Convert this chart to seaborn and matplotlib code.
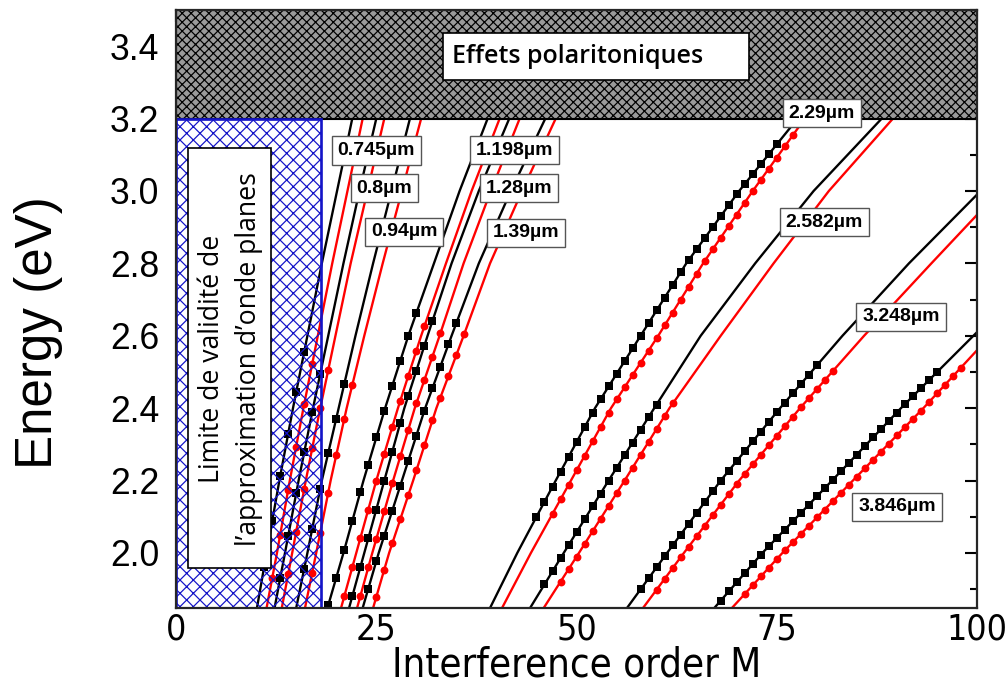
import numpy as np
import matplotlib
matplotlib.use('Agg')
import matplotlib.pyplot as plt
import seaborn as sns
from matplotlib.patches import Rectangle
from matplotlib.ticker import MultipleLocator

# ── Data ────────────────────────────────────────────────────────────────────
# model curves: interference order M read at these energies (eV)
E_GRID = [1.848, 2.0, 2.2, 2.4, 2.6, 2.8, 3.0, 3.2]

M_0745_K = [10.1, 11.3, 12.9, 14.6, 16.4, 18.2, 20.1, 22.0]
M_0745_R = [11.3, 12.6, 14.2, 15.9, 17.7, 19.5, 21.4, 23.3]
M_080_K = [12.3, 13.6, 15.3, 17.1, 19.0, 20.9, 22.9, 25.0]
M_080_R = [13.2, 14.5, 16.2, 18.0, 19.9, 21.8, 23.9, 26.0]
M_094_K = [15.0, 16.4, 18.2, 20.3, 22.4, 24.6, 26.9, 29.2]
M_094_R = [16.1, 17.5, 19.3, 21.3, 23.5, 25.8, 28.2, 30.6]
M_1198_K = [18.9, 20.9, 23.4, 26.1, 29.0, 32.2, 35.4, 38.9]
M_1198_R = [20.6, 22.5, 25.0, 27.7, 30.6, 33.7, 36.9, 40.4]
M_128_K = [21.6, 23.5, 26.0, 28.5, 31.4, 34.4, 37.8, 41.6]
M_128_R = [22.6, 24.5, 27.1, 29.8, 32.9, 35.9, 39.3, 42.9]
M_139_K = [23.3, 25.3, 28.2, 31.1, 34.4, 37.8, 41.8, 46.1]
M_139_R = [24.6, 26.6, 29.6, 32.5, 35.9, 39.2, 43.2, 47.4]
M_229_K = [39.2, 42.6, 47.4, 52.3, 58.0, 63.7, 70.3, 77.6]
M_229_R = [40.7, 44.3, 49.3, 54.3, 60.2, 65.8, 72.0, 78.5]
M_2582_K = [44.2, 48.4, 54.0, 59.7, 65.5, 72.3, 79.6, 88.1]
M_2582_R = [45.9, 50.3, 56.0, 61.6, 68.0, 74.6, 81.5, 89.5]

E_3248_K = [1.848, 2.0, 2.2, 2.4, 2.6, 2.8, 2.99]
M_3248_K = [56.3, 61.3, 68.0, 75.4, 83.2, 91.5, 100.0]
E_3248_R = [1.848, 2.0, 2.2, 2.4, 2.6, 2.8, 2.934]
M_3248_R = [58.3, 63.4, 70.3, 77.9, 85.9, 94.3, 100.0]
E_3846_K = [1.848, 2.0, 2.2, 2.4, 2.61]
M_3846_K = [67.2, 73.2, 81.9, 90.5, 100.0]
E_3846_R = [1.848, 2.0, 2.2, 2.4, 2.56]
M_3846_R = [69.4, 75.7, 84.5, 93.3, 100.0]

# measured points: energy of consecutive orders, starting at the given order
START_0745_K, PTS_0745_K = 11, [1.962, 2.087, 2.212, 2.329, 2.444, 2.556]
START_0745_R, PTS_0745_R = 12, [1.930, 2.050, 2.175, 2.294, 2.411, 2.522]
START_080_K, PTS_080_K = 13, [1.930, 2.047, 2.165, 2.278, 2.389, 2.495]
START_080_R, PTS_080_R = 14, [1.942, 2.059, 2.176, 2.289, 2.400, 2.505]
START_094_K, PTS_094_K = 16, [1.957, 2.067, 2.178, 2.276, 2.371, 2.467]
START_094_R, PTS_094_R = 17, [1.946, 2.056, 2.167, 2.270, 2.370, 2.464]
START_1198_K, PTS_1198_K = 19, [1.856, 1.932, 2.008, 2.088, 2.168, 2.244, 2.319, 2.393,
                                2.462, 2.531, 2.600, 2.663]
START_1198_R, PTS_1198_R = 21, [1.880, 1.960, 2.040, 2.120, 2.200, 2.274, 2.348, 2.421,
                                2.490, 2.559, 2.626]
START_128_K, PTS_128_K = 22, [1.880, 1.960, 2.040, 2.120, 2.200, 2.280, 2.360, 2.434,
                              2.503, 2.572, 2.640]
START_128_R, PTS_128_R = 23, [1.880, 1.960, 2.038, 2.115, 2.192, 2.267, 2.341, 2.413,
                              2.477, 2.542, 2.607]
START_139_K, PTS_139_K = 24, [1.901, 1.977, 2.048, 2.117, 2.186, 2.255, 2.324, 2.393,
                              2.455, 2.515, 2.576, 2.635]
START_139_R, PTS_139_R = 25, [1.878, 1.954, 2.027, 2.093, 2.160, 2.228, 2.297, 2.366,
                              2.429, 2.488, 2.547, 2.606]
START_229_K, PTS_229_K = 45, [2.100, 2.142, 2.183, 2.224, 2.265, 2.306, 2.347, 2.388,
                              2.425, 2.460, 2.495, 2.530, 2.565, 2.600, 2.635, 2.670,
                              2.705, 2.740, 2.775, 2.809, 2.839, 2.870, 2.900, 2.930,
                              2.961, 2.991, 3.019, 3.047, 3.074, 3.101, 3.129]
START_229_R, PTS_229_R = 47, [2.108, 2.148, 2.188, 2.228, 2.268, 2.308, 2.348, 2.388,
                              2.424, 2.458, 2.492, 2.525, 2.559, 2.593, 2.629, 2.664,
                              2.700, 2.736, 2.771, 2.806, 2.839, 2.871, 2.903, 2.935,
                              2.968, 3.000, 3.031, 3.062, 3.092, 3.123, 3.154]
START_2582_K, PTS_2582_K = 46, [1.913, 1.949, 1.986, 2.021, 2.057, 2.093, 2.129, 2.164,
                                2.200, 2.235, 2.270, 2.305, 2.340, 2.375, 2.410]
START_2582_R, PTS_2582_R = 48, [1.921, 1.955, 1.990, 2.025, 2.060, 2.095, 2.130, 2.165,
                                2.200, 2.236, 2.271, 2.307, 2.343, 2.379, 2.413]
START_3248_K, PTS_3248_K = 58, [1.900, 1.930, 1.960, 1.991, 2.021, 2.051, 2.081, 2.110,
                                2.140, 2.170, 2.200, 2.227, 2.254, 2.281, 2.308, 2.335,
                                2.362, 2.389, 2.415, 2.441, 2.467, 2.492, 2.518]
START_3248_R, PTS_3248_R = 60, [1.899, 1.928, 1.958, 1.988, 2.017, 2.046, 2.075, 2.104,
                                2.133, 2.162, 2.191, 2.218, 2.245, 2.271, 2.297, 2.324,
                                2.350, 2.376, 2.402, 2.427, 2.452, 2.478, 2.502]
START_3846_K, PTS_3846_K = 68, [1.868, 1.894, 1.919, 1.944, 1.970, 1.995, 2.018, 2.041,
                                2.064, 2.087, 2.110, 2.133, 2.156, 2.179, 2.202, 2.226,
                                2.249, 2.272, 2.295, 2.319, 2.342, 2.365, 2.388, 2.411,
                                2.433, 2.455, 2.477, 2.499]
START_3846_R, PTS_3846_R = 71, [1.887, 1.911, 1.935, 1.959, 1.983, 2.007, 2.030, 2.052,
                                2.075, 2.098, 2.120, 2.143, 2.166, 2.189, 2.211, 2.234,
                                2.257, 2.280, 2.302, 2.325, 2.348, 2.370, 2.393, 2.417,
                                2.441, 2.464, 2.488, 2.512]

THICKNESS_LABELS = ['0.745µm', '0.8µm', '0.94µm', '1.198µm', '1.28µm',
                    '1.39µm', '2.29µm', '2.582µm', '3.248µm', '3.846µm']
LABEL_M = [25.0, 26.0, 28.5, 42.3, 42.8, 43.7, 80.6, 80.9, 90.5, 90.0]
LABEL_E = [3.111, 3.008, 2.887, 3.113, 3.008, 2.884, 3.215, 2.914, 2.652, 2.127]

curves = [
    (E_GRID, M_0745_K, START_0745_K, PTS_0745_K, 'k'), (E_GRID, M_0745_R, START_0745_R, PTS_0745_R, 'r'),
    (E_GRID, M_080_K, START_080_K, PTS_080_K, 'k'), (E_GRID, M_080_R, START_080_R, PTS_080_R, 'r'),
    (E_GRID, M_094_K, START_094_K, PTS_094_K, 'k'), (E_GRID, M_094_R, START_094_R, PTS_094_R, 'r'),
    (E_GRID, M_1198_K, START_1198_K, PTS_1198_K, 'k'), (E_GRID, M_1198_R, START_1198_R, PTS_1198_R, 'r'),
    (E_GRID, M_128_K, START_128_K, PTS_128_K, 'k'), (E_GRID, M_128_R, START_128_R, PTS_128_R, 'r'),
    (E_GRID, M_139_K, START_139_K, PTS_139_K, 'k'), (E_GRID, M_139_R, START_139_R, PTS_139_R, 'r'),
    (E_GRID, M_229_K, START_229_K, PTS_229_K, 'k'), (E_GRID, M_229_R, START_229_R, PTS_229_R, 'r'),
    (E_GRID, M_2582_K, START_2582_K, PTS_2582_K, 'k'), (E_GRID, M_2582_R, START_2582_R, PTS_2582_R, 'r'),
    (E_3248_K, M_3248_K, START_3248_K, PTS_3248_K, 'k'), (E_3248_R, M_3248_R, START_3248_R, PTS_3248_R, 'r'),
    (E_3846_K, M_3846_K, START_3846_K, PTS_3846_K, 'k'), (E_3846_R, M_3846_R, START_3846_R, PTS_3846_R, 'r'),
]

# ── Figure ─────────────────────────────────────────────────────────────────
sns.set_style('white')
plt.rcParams['font.family'] = ['Liberation Sans', 'DejaVu Sans']
plt.rcParams['hatch.linewidth'] = 1.1
for key in ['text.color', 'axes.labelcolor', 'xtick.color', 'ytick.color']:
    plt.rcParams[key] = 'black'

fig = plt.figure(figsize=(12.575, 8.6), dpi=80)
ax = fig.add_axes([0.175, 0.1163, 0.7962, 0.8692])

for e, m, start, pts, c in curves:
    col = 'black' if c == 'k' else '#ff0000'
    sns.lineplot(x=m, y=e, sort=False, estimator=None, color=col, lw=2.1, ax=ax, zorder=2)
    orders = np.arange(start, start + len(pts))
    sns.scatterplot(x=orders, y=pts, marker='s' if c == 'k' else 'o', color=col,
                    s=50, linewidth=0, ax=ax, zorder=2.5)

# polariton region and plane-wave validity limit
ax.add_patch(Rectangle((0, 3.2), 100, 0.3, facecolor='#9a9a9a', edgecolor='black',
                       hatch='xxx', lw=1.9, zorder=3))
ax.add_patch(Rectangle((0, 1.848), 18.1, 3.2 - 1.848, facecolor='none', edgecolor='#1414c8',
                       hatch='xx', lw=2.4, zorder=4))

ax.add_patch(Rectangle((33.3, 3.307), 38.2, 0.129, facecolor='white', edgecolor='black',
                       lw=1.5, zorder=5))
ax.text(34.5, 3.372, 'Effets polaritoniques', ha='left', va='center', fontsize=22.5,
        family=['Open Sans', 'DejaVu Sans'], fontweight='semibold', zorder=6)

ax.add_patch(Rectangle((1.5, 1.959), 10.4, 1.16, facecolor='white', edgecolor='black',
                       lw=1.5, zorder=5))
ax.text(6.8, 2.536, 'Limite de validité de\nl\u2019approximation d\u2019onde planes',
        rotation=90, ha='center', va='center', fontsize=24, linespacing=1.45,
        family=['Open Sans', 'DejaVu Sans'], zorder=6)

for lab, m, e in zip(THICKNESS_LABELS, LABEL_M, LABEL_E):
    ax.text(m, e, lab, ha='center', va='center', fontsize=17.5, fontweight='bold', zorder=7,
            bbox=dict(boxstyle='square,pad=0.3', facecolor='white', edgecolor='#555555', lw=1.25))

ax.set_xlim(0, 100)
ax.set_ylim(1.848, 3.5)
ax.xaxis.set_major_locator(MultipleLocator(25))
ax.xaxis.set_minor_locator(MultipleLocator(12.5))
ax.yaxis.set_minor_locator(MultipleLocator(0.1))
ax.set_yticks([2.0, 2.2, 2.4, 2.6, 2.8, 3.0, 3.2, 3.4])
ax.set_yticklabels(['2.0', '2.2', '2.4', '2.6', '2.8', '3.0', '3.2', '3.4'])
ax.tick_params(which='both', direction='in', top=True, right=True, width=1.9)
ax.tick_params(which='major', length=11)
ax.tick_params(which='minor', length=6)
ax.tick_params(axis='y', labelsize=32, pad=15)
ax.tick_params(axis='x', labelsize=32, pad=4.5)
for lbl in ax.get_xticklabels():
    lbl.set_family(['Liberation Sans Narrow', 'DejaVu Sans'])
    lbl.set_stretch('condensed')
for sp in ax.spines.values():
    sp.set_linewidth(2.0)
    sp.set_zorder(8)

ax.set_xlabel('Interference order M', fontsize=36,
              family=['Liberation Sans Narrow', 'DejaVu Sans'], stretch='condensed')
ax.xaxis.label.set_va('baseline')
ax.xaxis.set_label_coords(0.5, -0.1154)
ax.set_ylabel('Energy (eV)', fontsize=46)
ax.yaxis.set_label_coords(-0.141, 0.46)

fig.savefig('out.png', dpi=80)
